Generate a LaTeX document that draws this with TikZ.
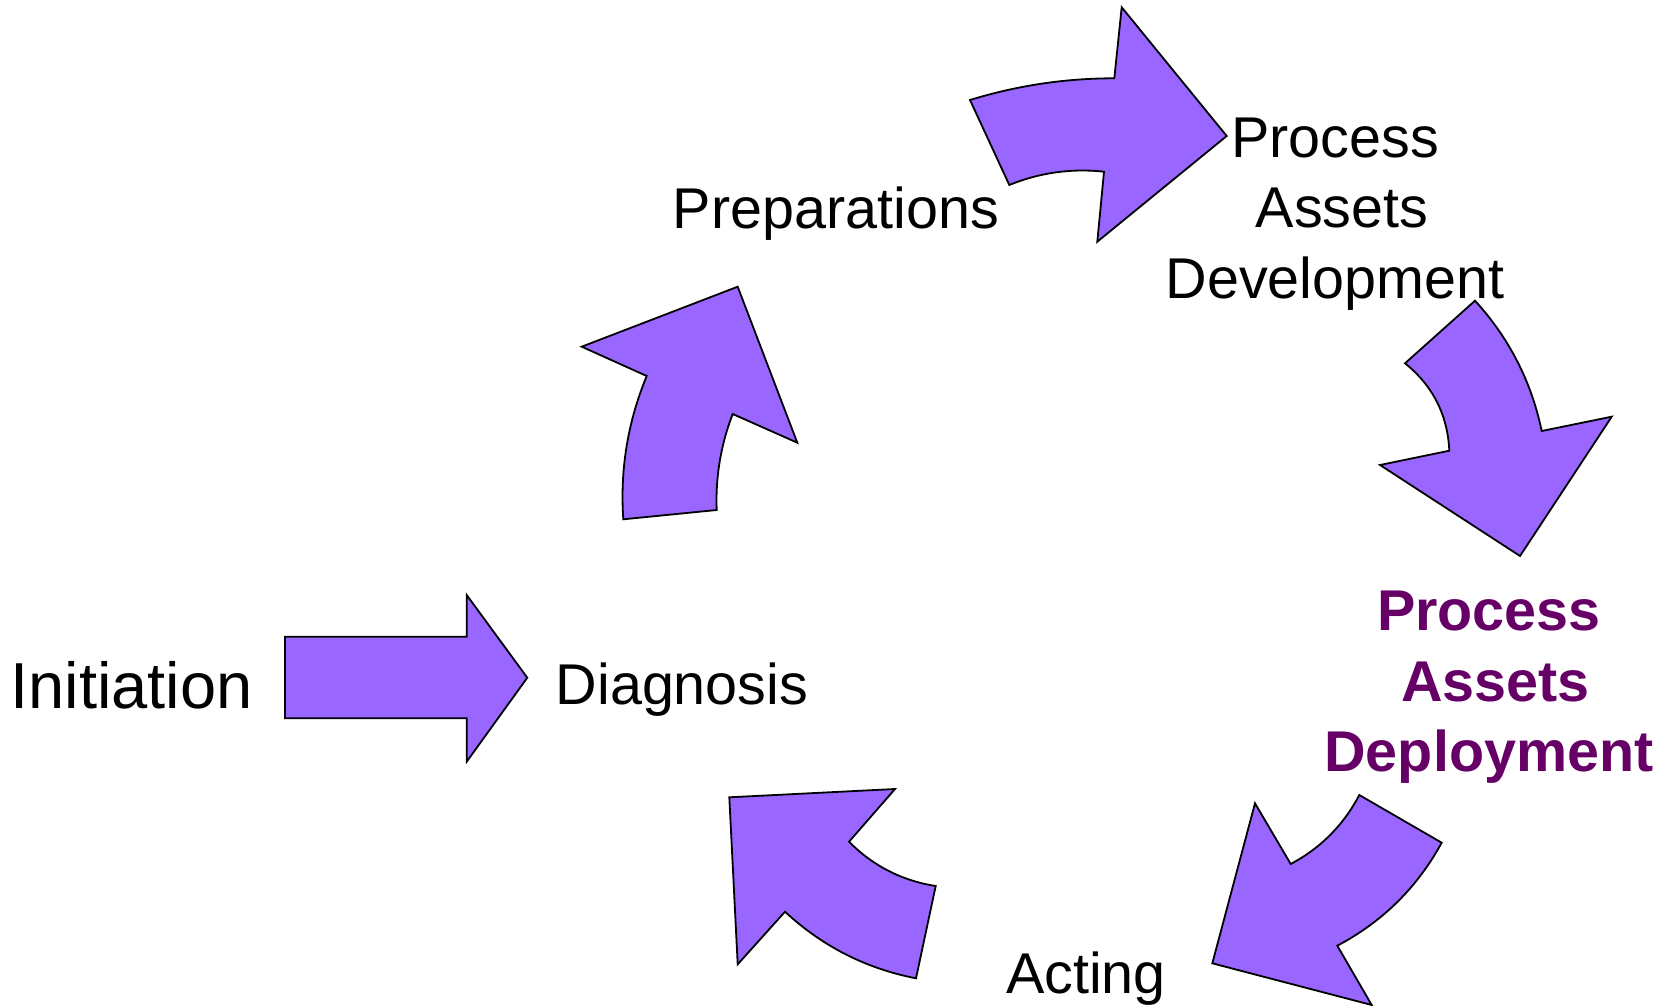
\documentclass[tikz,border=0pt]{standalone}
\usepackage{fontspec}
\usetikzlibrary{calc}
\setmainfont{Liberation Sans}
\definecolor{arrowfill}{HTML}{9966FF}
\definecolor{deeppurple}{HTML}{660066}
\begin{document}
\begin{tikzpicture}[x=1pt,y=-1pt,
  bigarrow/.style={fill=arrowfill,draw=black,line width=1.8pt,line join=miter},
  lbl/.style={inner sep=0pt,anchor=base,align=center,font=\fontsize{57.5}{70.6}\selectfont},
  lblbig/.style={inner sep=0pt,anchor=base,font=\fontsize{65}{78}\selectfont},
  lblbold/.style={lbl,font=\fontsize{57.5}{70.6}\selectfont\bfseries,text=deeppurple}]
\useasboundingbox[fill=white] (0,0) rectangle (1663,1006);

% labels (base anchor = last line for multi-line)
\node[lblbig] (init) at (131.5,708.5) {Initiation};
\node[lbl] (diag) at (682,704.2) {Diagnosis};
\node[lbl] (prep) at (835.8,228) {Preparations};
\node[lbl] (pad) at (1335,298.3) {Process\\\hspace*{14pt}Assets\\Development};
\node[lblbold] (pdep) at (1489,771.7) {Process\\\hspace*{13pt}Assets\\Deployment};
\node[lbl] (act) at (1086,993.3) {Acting};

% straight arrow Initiation -> Diagnosis
\draw[bigarrow] (285,636.7) -- (466.7,636.7) -- (466.7,595) -- (527.3,677.7)
  -- (466.7,761.7) -- (466.7,718.3) -- (285,718.3) -- cycle;

% Diagnosis -> Preparations
\draw[bigarrow] (623.3,519.3)
  .. controls ($(623.3,519.3)!0.6667!(618.2,445)$) and ($(646.7,376)!0.6667!(618.2,445)$) .. (646.7,376)
  -- (581.7,346.7) -- (737.7,286.7) -- (797.3,442.7) -- (732.7,414)
  .. controls ($(732.7,414)!0.6667!(714.8,460.4)$) and ($(716.7,510)!0.6667!(714.8,460.4)$) .. (716.7,510)
  -- cycle;

% Preparations -> Process Assets Development
\draw[bigarrow] (970,100)
  .. controls ($(970,100)!0.6667!(1040.5,78.3)$) and ($(1114.3,78.3)!0.6667!(1040.5,78.3)$) .. (1114.3,78.3)
  -- (1121.7,7.3) -- (1226.7,136) -- (1097.3,241.7) -- (1104,171.7)
  .. controls ($(1104,171.7)!0.6667!(1055,166.4)$) and ($(1009.3,185)!0.6667!(1055,166.4)$) .. (1009.3,185)
  -- cycle;

% Development -> Deployment
\draw[bigarrow] (1475,300.7)
  .. controls ($(1475,300.7)!0.6667!(1526.2,356.8)$) and ($(1541.7,431)!0.6667!(1526.2,356.8)$) .. (1541.7,431)
  -- (1611.7,416.7) -- (1520,556) -- (1380,465) -- (1449.3,450.7)
  .. controls ($(1449.3,450.7)!0.6667!(1446.8,397)$) and ($(1405,363.3)!0.6667!(1446.8,397)$) .. (1405,363.3)
  -- cycle;

% Deployment -> Acting
\draw[bigarrow] (1359.3,795) -- (1441.7,842.7)
  .. controls ($(1441.7,842.7)!0.6667!(1405,909.9)$) and ($(1337.3,945.7)!0.6667!(1405,909.9)$) .. (1337.3,945.7)
  -- (1371.7,1005) -- (1212.3,963.3) -- (1255,803.3) -- (1290.7,864)
  .. controls ($(1290.7,864)!0.6667!(1335.6,840.1)$) and ($(1359.3,795)!0.6667!(1335.6,840.1)$) .. (1359.3,795)
  -- cycle;

% Acting -> Diagnosis
\draw[bigarrow] (895,789) -- (729.3,797.3) -- (737.7,964.3) -- (785,911.7)
  .. controls ($(785,911.7)!0.6667!(841,963.7)$) and ($(916,978.3)!0.6667!(841,963.7)$) .. (916,978.3)
  -- (935.7,886)
  .. controls ($(935.7,886)!0.6667!(885,878)$) and ($(849,841.7)!0.6667!(885,878)$) .. (849,841.7)
  -- cycle;
\end{tikzpicture}
\end{document}
